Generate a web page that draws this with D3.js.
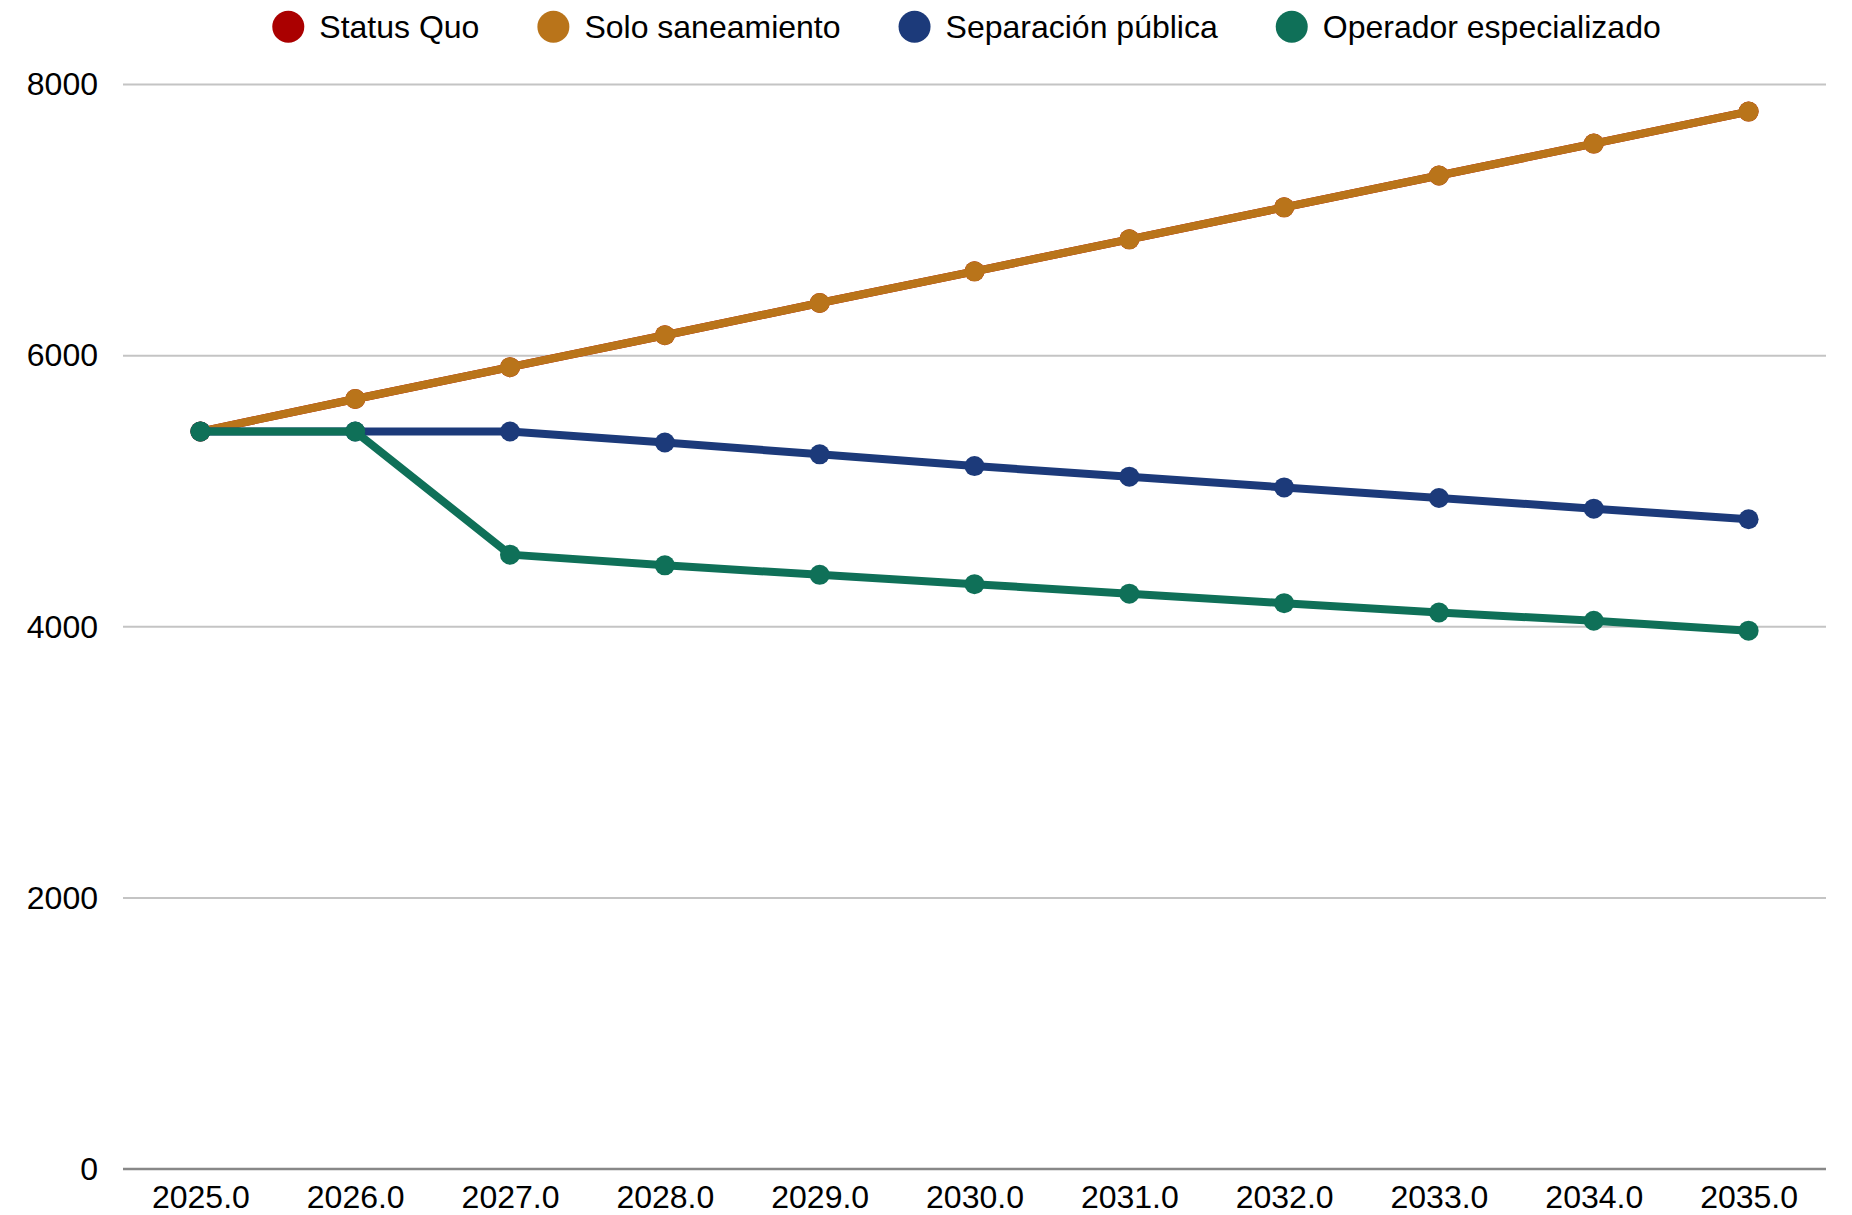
<!DOCTYPE html>
<html>
<head>
<meta charset="utf-8">
<script src="https://cdn.jsdelivr.net/npm/d3@7"></script>
<style>
	body { margin: 0; background: #fff; }
	svg text { font-family: "Liberation Sans", Arial, sans-serif; fill: #000; }
</style>
</head>
<body>
<svg id="chart" width="1852" height="1215"></svg>
<script>
// data
var years = [2025, 2026, 2027, 2028, 2029, 2030, 2031, 2032, 2033, 2034, 2035];
var seriesNames = ['Status Quo', 'Solo saneamiento', 'Separación pública', 'Operador especializado'];
var statusQuo = [5440, 5680, 5915, 6150, 6388, 6622, 6858, 7094, 7329, 7564, 7800];
var soloSaneamiento = [5440, 5680, 5915, 6150, 6388, 6622, 6858, 7094, 7329, 7564, 7800];
var separacionPublica = [5440, 5440, 5440, 5359, 5272, 5185, 5107, 5028, 4950, 4871, 4793];
var operadorEspecializado = [5440, 5440, 4532, 4453, 4383, 4314, 4244, 4174, 4105, 4044, 3971];
var yTicks = [0, 2000, 4000, 6000, 8000];
var colors = ['#aa0000', '#b9741a', '#1c3a7a', '#0f7058'];

var series = [statusQuo, soloSaneamiento, separacionPublica, operadorEspecializado].map(function(vals, i) {
	return { key: seriesNames[i], color: colors[i], values: vals.map(function(v, j) { return { x: years[j], y: v }; }) };
});

var margin = { left: 123, right: 26, top: 84.5, bottom: 46 };
var W = 1852, H = 1215;
var fontSize = '32px';

var svg = d3.select('#chart');

var x = d3.scalePoint()
	.domain(years)
	.range([margin.left, W - margin.right])
	.padding(0.5);

var y = d3.scaleLinear()
	.domain([0, 8000])
	.range([H - margin.bottom, margin.top]);

// gridlines
svg.append('g')
	.selectAll('line')
	.data(yTicks.filter(function(t) { return t > 0; }))
	.enter().append('line')
	.attr('x1', margin.left)
	.attr('x2', W - margin.right)
	.attr('y1', function(d) { return y(d); })
	.attr('y2', function(d) { return y(d); })
	.attr('stroke', '#c4c4c4')
	.attr('stroke-width', 2);

// y axis labels
var yAxis = d3.axisLeft(y).tickValues(yTicks).tickSize(0).tickPadding(25).tickFormat(d3.format('d'));
var gy = svg.append('g').attr('transform', 'translate(' + margin.left + ',0)').call(yAxis);
gy.select('.domain').remove();
gy.selectAll('text').style('font-size', fontSize).style('font-family', '"Liberation Sans", Arial, sans-serif').attr('fill', '#000');

// x axis
var xAxis = d3.axisBottom(x).tickSize(0).tickPadding(16).tickFormat(function(d) { return d3.format('.1f')(d); });
var gx = svg.append('g').attr('transform', 'translate(0,' + y(0) + ')').call(xAxis);
gx.select('.domain').attr('stroke', '#888').attr('stroke-width', 2.5)
	.attr('d', 'M' + margin.left + ',0H' + (W - margin.right));
gx.selectAll('text').style('font-size', fontSize).style('font-family', '"Liberation Sans", Arial, sans-serif').attr('fill', '#000');

// lines and points
var line = d3.line()
	.x(function(d) { return x(d.x); })
	.y(function(d) { return y(d.y); });

var g = svg.selectAll('.series').data(series).enter().append('g').classed('series', true);

g.append('path')
	.attr('d', function(d) { return line(d.values); })
	.attr('fill', 'none')
	.attr('stroke', function(d) { return d.color; })
	.attr('stroke-width', 8)
	.attr('stroke-linejoin', 'round');

g.each(function(s) {
	d3.select(this).selectAll('circle')
		.data(s.values)
		.enter().append('circle')
		.attr('cx', function(d) { return x(d.x); })
		.attr('cy', function(d) { return y(d.y); })
		.attr('r', 10)
		.attr('fill', s.color);
});

// legend
var legend = svg.append('g');
var items = legend.selectAll('.legend').data(series).enter().append('g').classed('legend', true);
items.append('circle').attr('r', 16).attr('fill', function(d) { return d.color; });
items.append('text')
	.attr('x', 31)
	.attr('dy', '.35em')
	.style('font-size', fontSize)
	.text(function(d) { return d.key; });

var curX = 0, positions = [];
items.each(function(d, i) {
	positions[i] = curX;
	var w = d3.select(this).select('text').node().getComputedTextLength();
	curX += 31 + w + 74;
});
var totalW = curX - 74 + 16;
items.attr('transform', function(d, i) { return 'translate(' + positions[i] + ',0)'; });
var plotCenter = (margin.left + W - margin.right) / 2 - 8;
legend.attr('transform', 'translate(' + (plotCenter - totalW / 2 + 16) + ',26.7)');
</script>
</body>
</html>
